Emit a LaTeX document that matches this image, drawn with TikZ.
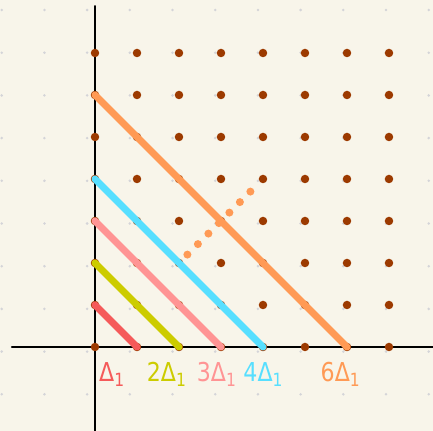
\documentclass[tikz,border=0pt]{standalone}
\usepackage{fontspec}
\setmainfont{DejaVu Sans}
\definecolor{paper}{HTML}{F8F5EA}
\definecolor{griddot}{HTML}{D4D4D8}
\definecolor{latdot}{HTML}{9C3A00}
\definecolor{lvred}{HTML}{F55A5A}
\definecolor{lvyel}{HTML}{CCCC00}
\definecolor{lvpink}{HTML}{FF9494}
\definecolor{lvcyan}{HTML}{57DFFF}
\definecolor{lvorange}{HTML}{FF9A55}

\begin{document}
\begin{tikzpicture}[x=42pt,y=42pt,line cap=round,
  lat/.style={circle,fill=latdot,inner sep=0pt,minimum size=8.5pt},
  level/.style={line width=7pt},
  lab/.style={anchor=base west,inner sep=0pt,font=\fontsize{26}{26}\selectfont}]
  \fill[paper] (-2.262,-2) rectangle (8.048,8.262);
  \useasboundingbox (-2.262,-2) rectangle (8.048,8.262);
  % background dots
  \foreach \i in {0,...,10}
    \foreach \j in {0,...,9}
      \fill[griddot] (-2.221+1.0167*\i,8.024-1.0167*\j) circle (1.4pt);
  % axes
  \coordinate (ytop) at (0,8.12);
  \coordinate (ybot) at (0,-2.05);
  \coordinate (xleft) at (-1.98,0);
  \coordinate (xright) at (8.1,0);
  \draw[line width=1.8pt] (ybot) -- (ytop);
  \draw[line width=1.8pt] (xleft) -- (xright);
  % lattice points
  \foreach \i in {0,...,7}
    \foreach \j in {0,...,7}
      \node[lat] (p\i\j) at (\i,\j) {};
  % dotted normal
  \coordinate (n0) at (2.2,2.2);
  \coordinate (n1) at (3.72,3.72);
  \draw[lvorange,line width=8pt,dash pattern=on 0pt off 14.85pt] (n0) -- (n1);
  % levels
  \draw[level,lvred] (p01.center) -- (p10.center);
  \draw[level,lvyel] (p02.center) -- (p20.center);
  \draw[level,lvpink] (p03.center) -- (p30.center);
  \draw[level,lvcyan] (p04.center) -- (p40.center);
  \draw[level,lvorange] (p06.center) -- (p60.center);
  % labels
  \node[lab,lvred] (l1) at (0.095,-0.833) {\scalebox{0.85}[1]{Δ\textsubscript{1}}};
  \node[lab,lvyel] (l2) at (1.23,-0.833) {\scalebox{0.85}[1]{2Δ\textsubscript{1}}};
  \node[lab,lvpink] (l3) at (2.42,-0.833) {\scalebox{0.85}[1]{3Δ\textsubscript{1}}};
  \node[lab,lvcyan] (l4) at (3.53,-0.833) {\scalebox{0.85}[1]{4Δ\textsubscript{1}}};
  \node[lab,lvorange] (l6) at (5.37,-0.833) {\scalebox{0.85}[1]{6Δ\textsubscript{1}}};
\end{tikzpicture}
\end{document}
